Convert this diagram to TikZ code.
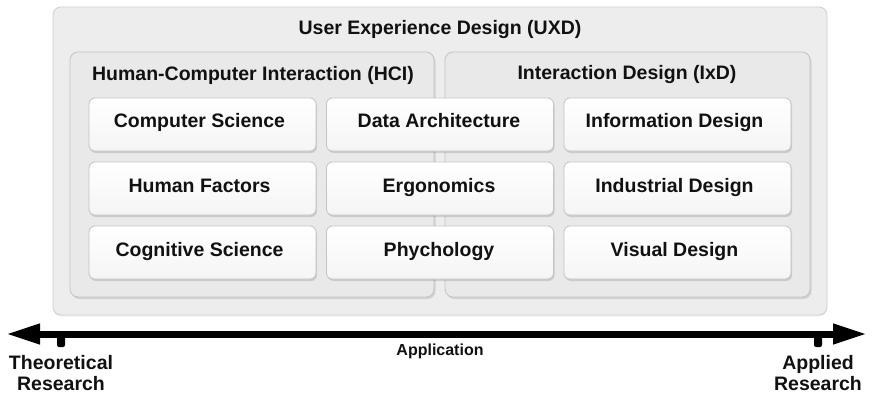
\documentclass[tikz,border=0pt]{standalone}
\usepackage{fontspec}
\setmainfont{Liberation Sans}
\usetikzlibrary{shadows,arrows.meta}
\definecolor{outerfill}{HTML}{EDEDED}
\definecolor{groupfill}{HTML}{E9E9E9}
\definecolor{boxline}{HTML}{C4C4C4}
\definecolor{txt}{HTML}{111111}
\tikzset{
  bigtxt/.style={font=\fontsize{19.5}{23}\bfseries\selectfont, text=txt},
  outerbox/.style={draw=boxline!80, fill=outerfill, rounded corners=8pt, line width=0.8pt,
    drop shadow={shadow xshift=0pt, shadow yshift=-1.5pt, opacity=0.12}},
  groupbox/.style={draw=boxline, fill=groupfill, rounded corners=8pt, line width=0.8pt,
    drop shadow={shadow xshift=1.5pt, shadow yshift=-2pt, opacity=0.25}},
  itembox/.style={draw=boxline, top color=white, bottom color=white!96!black, rounded corners=6pt, line width=0.8pt,
    minimum width=227pt, minimum height=53pt, bigtxt, text height=14pt, text depth=4pt,
    drop shadow={shadow xshift=1pt, shadow yshift=-2pt, opacity=0.28}},
  itemtxt/.style={bigtxt, text height=14pt, text depth=4pt},
  axis/.style={line width=7pt, arrows={Triangle[length=34pt,width=19pt]-Triangle[length=34pt,width=19pt]}},
  tick/.style={fill=black, rounded corners=2pt},
}
\begin{document}
\begin{tikzpicture}[x=1pt,y=-1pt]
\useasboundingbox (0,0) rectangle (873,396);
% outer UXD
\draw[outerbox] (53,7) rectangle (827,315);
\node[bigtxt] (uxd) at (440,30) {User Experience Design (UXD)};
% groups
\draw[groupbox] (70,52) rectangle (434,297);
\node[bigtxt] (hci) at (253,75) {Human-Computer Interaction (HCI)};
\draw[groupbox] (445,52) rectangle (810,297);
\node[bigtxt] (ixd) at (627,75) {Interaction Design (IxD)};
% items (boxes, then labels slightly offset as in the reference)
\node[itembox] (cs) at (202.5,124.5) {};
\node[itembox] (da) at (440,124.5) {};
\node[itembox] (id) at (677.5,124.5) {};
\node[itembox] (hf) at (202.5,188.5) {};
\node[itembox] (er) at (440,188.5) {};
\node[itembox] (ind) at (677.5,188.5) {};
\node[itembox] (cg) at (202.5,252.5) {};
\node[itembox] (ps) at (440,252.5) {};
\node[itembox] (vd) at (677.5,252.5) {};
\node[itemtxt] (cst) at ([xshift=-3pt,yshift=1.5pt]cs.center) {Computer Science};
\node[itemtxt] (dat) at ([xshift=-1pt,yshift=1.5pt]da.center) {Data Architecture};
\node[itemtxt] (idt) at ([xshift=-3pt,yshift=1.5pt]id.center) {Information Design};
\node[itemtxt] (hft) at ([xshift=-3pt,yshift=1.5pt]hf.center) {Human Factors};
\node[itemtxt] (ert) at ([xshift=-1pt,yshift=1.5pt]er.center) {Ergonomics};
\node[itemtxt] (indt) at ([xshift=-3pt,yshift=1.5pt]ind.center) {Industrial Design};
\node[itemtxt] (cgt) at ([xshift=-3pt,yshift=1.5pt]cg.center) {Cognitive Science};
\node[itemtxt] (pst) at ([xshift=-1pt,yshift=1.5pt]ps.center) {Phychology};
\node[itemtxt] (vdt) at ([xshift=-3pt,yshift=1.5pt]vd.center) {Visual Design};
% axis
\coordinate (lend) at (6,334);
\coordinate (rend) at (867,334);
\fill[tick] (57,334) rectangle (65,347);
\fill[tick] (814,334) rectangle (822,347);
\draw[axis] (lend) -- (rend);
\node[font=\fontsize{16}{19}\bfseries\selectfont, text=txt] (app) at (440,351) {Application};
\node[bigtxt, align=center, font=\fontsize{19.5}{21}\bfseries\selectfont] (theo) at (61,373) {Theoretical\\Research};
\node[bigtxt, align=center, font=\fontsize{19.5}{21}\bfseries\selectfont] (appl) at (818,373) {Applied\\Research};
\end{tikzpicture}
\end{document}
